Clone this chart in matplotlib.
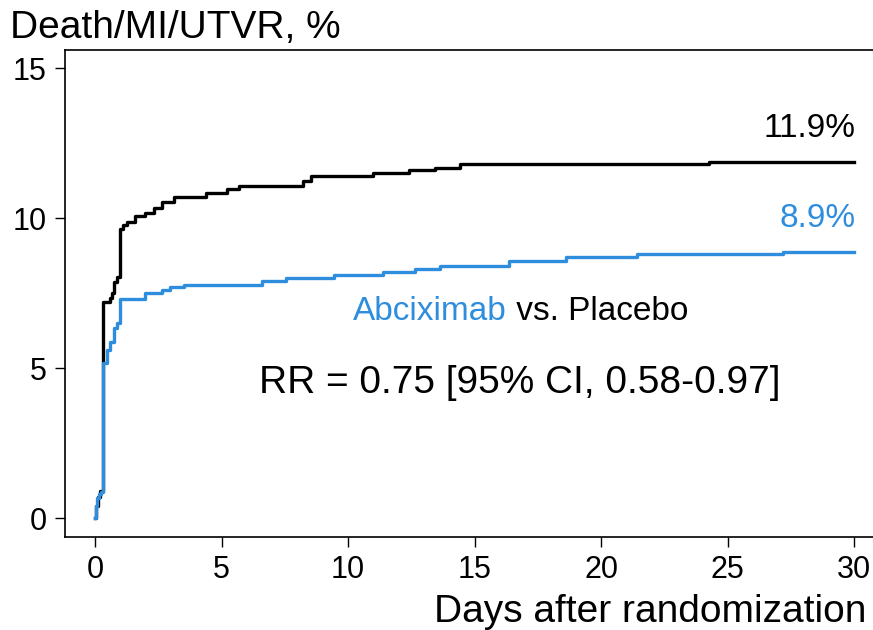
import matplotlib
matplotlib.use("Agg")
import matplotlib.pyplot as plt

plt.rcParams['font.family'] = ['Liberation Sans', 'DejaVu Sans']

# Placebo (black) cumulative incidence, %
placebo_days = [0, 0.03, 0.1, 0.2, 0.32, 0.57, 0.65, 0.73, 0.86, 0.99, 1.12, 1.26,
                1.59, 1.98, 2.32, 2.65, 3.1, 4.37, 5.2, 5.7, 8.23, 8.53, 10.99,
                12.4, 13.45, 14.42, 24.26, 30]
placebo_pct = [0, 0.4, 0.7, 0.9, 7.2, 7.35, 7.5, 7.88, 8.02, 9.62, 9.77, 9.88,
               10.07, 10.18, 10.32, 10.54, 10.71, 10.84, 10.97, 11.08, 11.24, 11.4, 11.49,
               11.6, 11.68, 11.79, 11.88, 11.88]

# Abciximab (blue) cumulative incidence, %
abcix_days = [0, 0.03, 0.07, 0.15, 0.25, 0.33, 0.46, 0.6, 0.73, 0.86, 0.99, 1.98,
              2.65, 2.98, 3.5, 6.6, 7.56, 9.43, 11.4, 12.66, 13.65, 16.36, 18.63,
              21.43, 27.2, 30]
abcix_pct = [0, 0.4, 0.67, 0.8, 0.88, 5.16, 5.6, 5.88, 6.32, 6.49, 7.29, 7.49,
             7.6, 7.69, 7.77, 7.9, 8.01, 8.1, 8.19, 8.29, 8.4, 8.58, 8.69,
             8.79, 8.88, 8.88]

x_ticks = [0, 5, 10, 15, 20, 25, 30]
y_ticks = [0, 5, 10, 15]
end_labels = ["11.9%", "8.9%"]

BLUE = "#2e8ddd"

fig = plt.figure(figsize=(8.73, 6.3), dpi=100)
ax = fig.add_axes([65/873, 1 - 537/630, 1 - 65/873, (537 - 50)/630])

ax.step(placebo_days, placebo_pct, where='post', color='black', lw=2.4)
ax.step(abcix_days, abcix_pct, where='post', color=BLUE, lw=2.4)

ax.set_xlim(-1.19, 30.75)
ax.set_ylim(-0.63, 15.6)
ax.set_xticks(x_ticks)
ax.set_yticks(y_ticks)
ax.tick_params(axis='both', direction='out', length=7.2, width=1, labelsize=22, pad=6)
ax.spines['right'].set_visible(False)
for s in ['left', 'bottom', 'top']:
    ax.spines[s].set_linewidth(1.2)

fig.text(10/873, 1 - 38/630, "Death/MI/UTVR, %", fontsize=28, ha='left', va='baseline')
fig.text(866/873, 1 - 622/630, "Days after randomization", fontsize=28, ha='right', va='baseline')

ax.text(30.05, 12.98, end_labels[0], fontsize=24, ha='right', va='center', color='black')
ax.text(30.05, 9.98, end_labels[1], fontsize=24, ha='right', va='center', color=BLUE)

t1 = ax.text(10.2, 6.87, "Abciximab", fontsize=24, ha='left', va='center', color=BLUE)
ax.annotate(" vs. Placebo", xy=(1, 0), xycoords=t1, fontsize=24, ha='left', va='bottom', color='black')

ax.text(16.8, 4.5, "RR = 0.75 [95% CI, 0.58-0.97]", fontsize=28, ha='center', va='center')

fig.savefig("out.png", dpi=100)
